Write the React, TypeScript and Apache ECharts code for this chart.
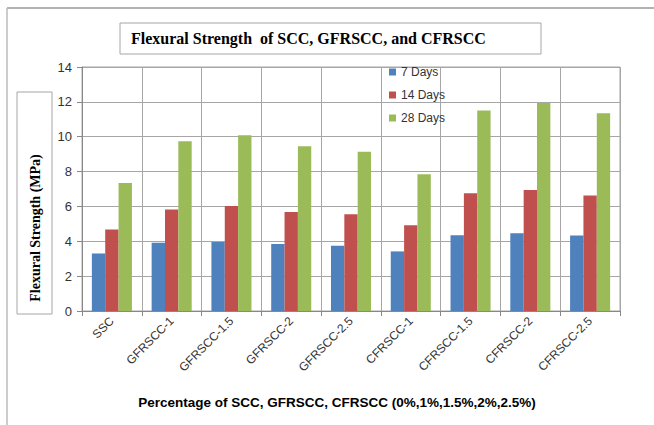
import React, { useEffect, useRef } from "react";
import * as echarts from "echarts";

const categories = [
  "SSC",
  "GFRSCC-1",
  "GFRSCC-1.5",
  "GFRSCC-2",
  "GFRSCC-2.5",
  "CFRSCC-1",
  "CFRSCC-1.5",
  "CFRSCC-2",
  "CFRSCC-2.5",
];
const days7 = [3.3, 3.92, 3.96, 3.85, 3.75, 3.42, 4.34, 4.46, 4.33];
const days14 = [4.68, 5.83, 6.02, 5.68, 5.55, 4.92, 6.75, 6.94, 6.62];
const days28 = [7.34, 9.74, 10.08, 9.45, 9.14, 7.84, 11.51, 11.93, 11.34];
const seriesNames = ["7 Days", "14 Days", "28 Days"];
const colors = ["#4F81BD", "#C0504D", "#9BBB59"];
const titleText = "Flexural Strength  of SCC, GFRSCC, and CFRSCC";
const yTitle = "Flexural Strength (MPa)";
const xTitle = "Percentage of SCC, GFRSCC, CFRSCC (0%,1%,1.5%,2%,2.5%)";

export default function App() {
  const ref = useRef<HTMLDivElement>(null);
  useEffect(() => {
    document.body.style.margin = "0";
    if (!ref.current) return;
    const chart = echarts.init(ref.current, null, { renderer: "svg" });
    const data = [days7, days14, days28];
    chart.setOption({
      animation: false,
      backgroundColor: "#fff",
      grid: {
        left: 82,
        right: 34,
        top: 67,
        bottom: 114,
        show: true,
        borderColor: "#a6a6a6",
        borderWidth: 1,
        backgroundColor: "transparent",
      },
      legend: {
        orient: "vertical",
        left: 384,
        top: 60,
        itemWidth: 7,
        itemHeight: 7,
        itemGap: 9,
        icon: "rect",
        textStyle: {
          fontFamily: "Liberation Sans",
          fontSize: 12,
          color: "#333",
          lineHeight: 14,
        },
        data: seriesNames,
      },
      xAxis: {
        type: "category",
        data: categories,
        axisLine: { show: true, lineStyle: { color: "#888" } },
        axisTick: { show: true, length: 5, lineStyle: { color: "#888" } },
        splitLine: { show: true, lineStyle: { color: "#a6a6a6" } },
        axisLabel: {
          rotate: 45,
          margin: 8,
          fontFamily: "Liberation Sans",
          fontSize: 12,
          color: "#333",
        },
      },
      yAxis: {
        type: "value",
        min: 0,
        max: 14,
        interval: 2,
        axisLine: { show: true, lineStyle: { color: "#888" } },
        axisTick: { show: true, length: 5, lineStyle: { color: "#888" } },
        splitLine: { show: true, lineStyle: { color: "#a6a6a6" } },
        axisLabel: {
          margin: 10,
          fontFamily: "Liberation Sans",
          fontSize: 13,
          color: "#333",
        },
      },
      series: seriesNames.map((name, i) => ({
        name,
        type: "bar",
        data: data[i],
        itemStyle: { color: colors[i] },
        barGap: "0%",
        barCategoryGap: "33%",
      })),
      graphic: [
        {
          type: "line",
          shape: { x1: 7, y1: 8, x2: 654, y2: 8 },
          style: { stroke: "#999", lineWidth: 1.5 },
        },
        {
          type: "line",
          shape: { x1: 7, y1: 8, x2: 7, y2: 425 },
          style: { stroke: "#bbb", lineWidth: 1.5 },
        },
        {
          type: "rect",
          shape: { x: 120, y: 23, width: 421, height: 31 },
          style: { fill: "#fff", stroke: "#a6a6a6", lineWidth: 1 },
        },
        {
          type: "text",
          x: 131,
          y: 38.5,
          style: {
            text: titleText,
            font: "bold 16px 'Liberation Serif'",
            fill: "#000",
            align: "left",
            verticalAlign: "middle",
          },
        },
        {
          type: "rect",
          shape: { x: 17, y: 92, width: 35, height: 222 },
          style: { fill: "#fff", stroke: "#a6a6a6", lineWidth: 1 },
        },
        {
          type: "text",
          x: 35,
          y: 228,
          rotation: Math.PI / 2,
          style: {
            text: yTitle,
            font: "bold 14px 'Liberation Serif'",
            fill: "#000",
            align: "center",
            verticalAlign: "middle",
          },
        },
        {
          type: "text",
          x: 337,
          y: 402,
          style: {
            text: xTitle,
            font: "bold 13.5px 'Liberation Sans'",
            fill: "#000",
            align: "center",
            verticalAlign: "middle",
          },
        },
      ],
    });
    return () => chart.dispose();
  }, []);
  return <div ref={ref} style={{ width: 654, height: 425 }} />;
}
